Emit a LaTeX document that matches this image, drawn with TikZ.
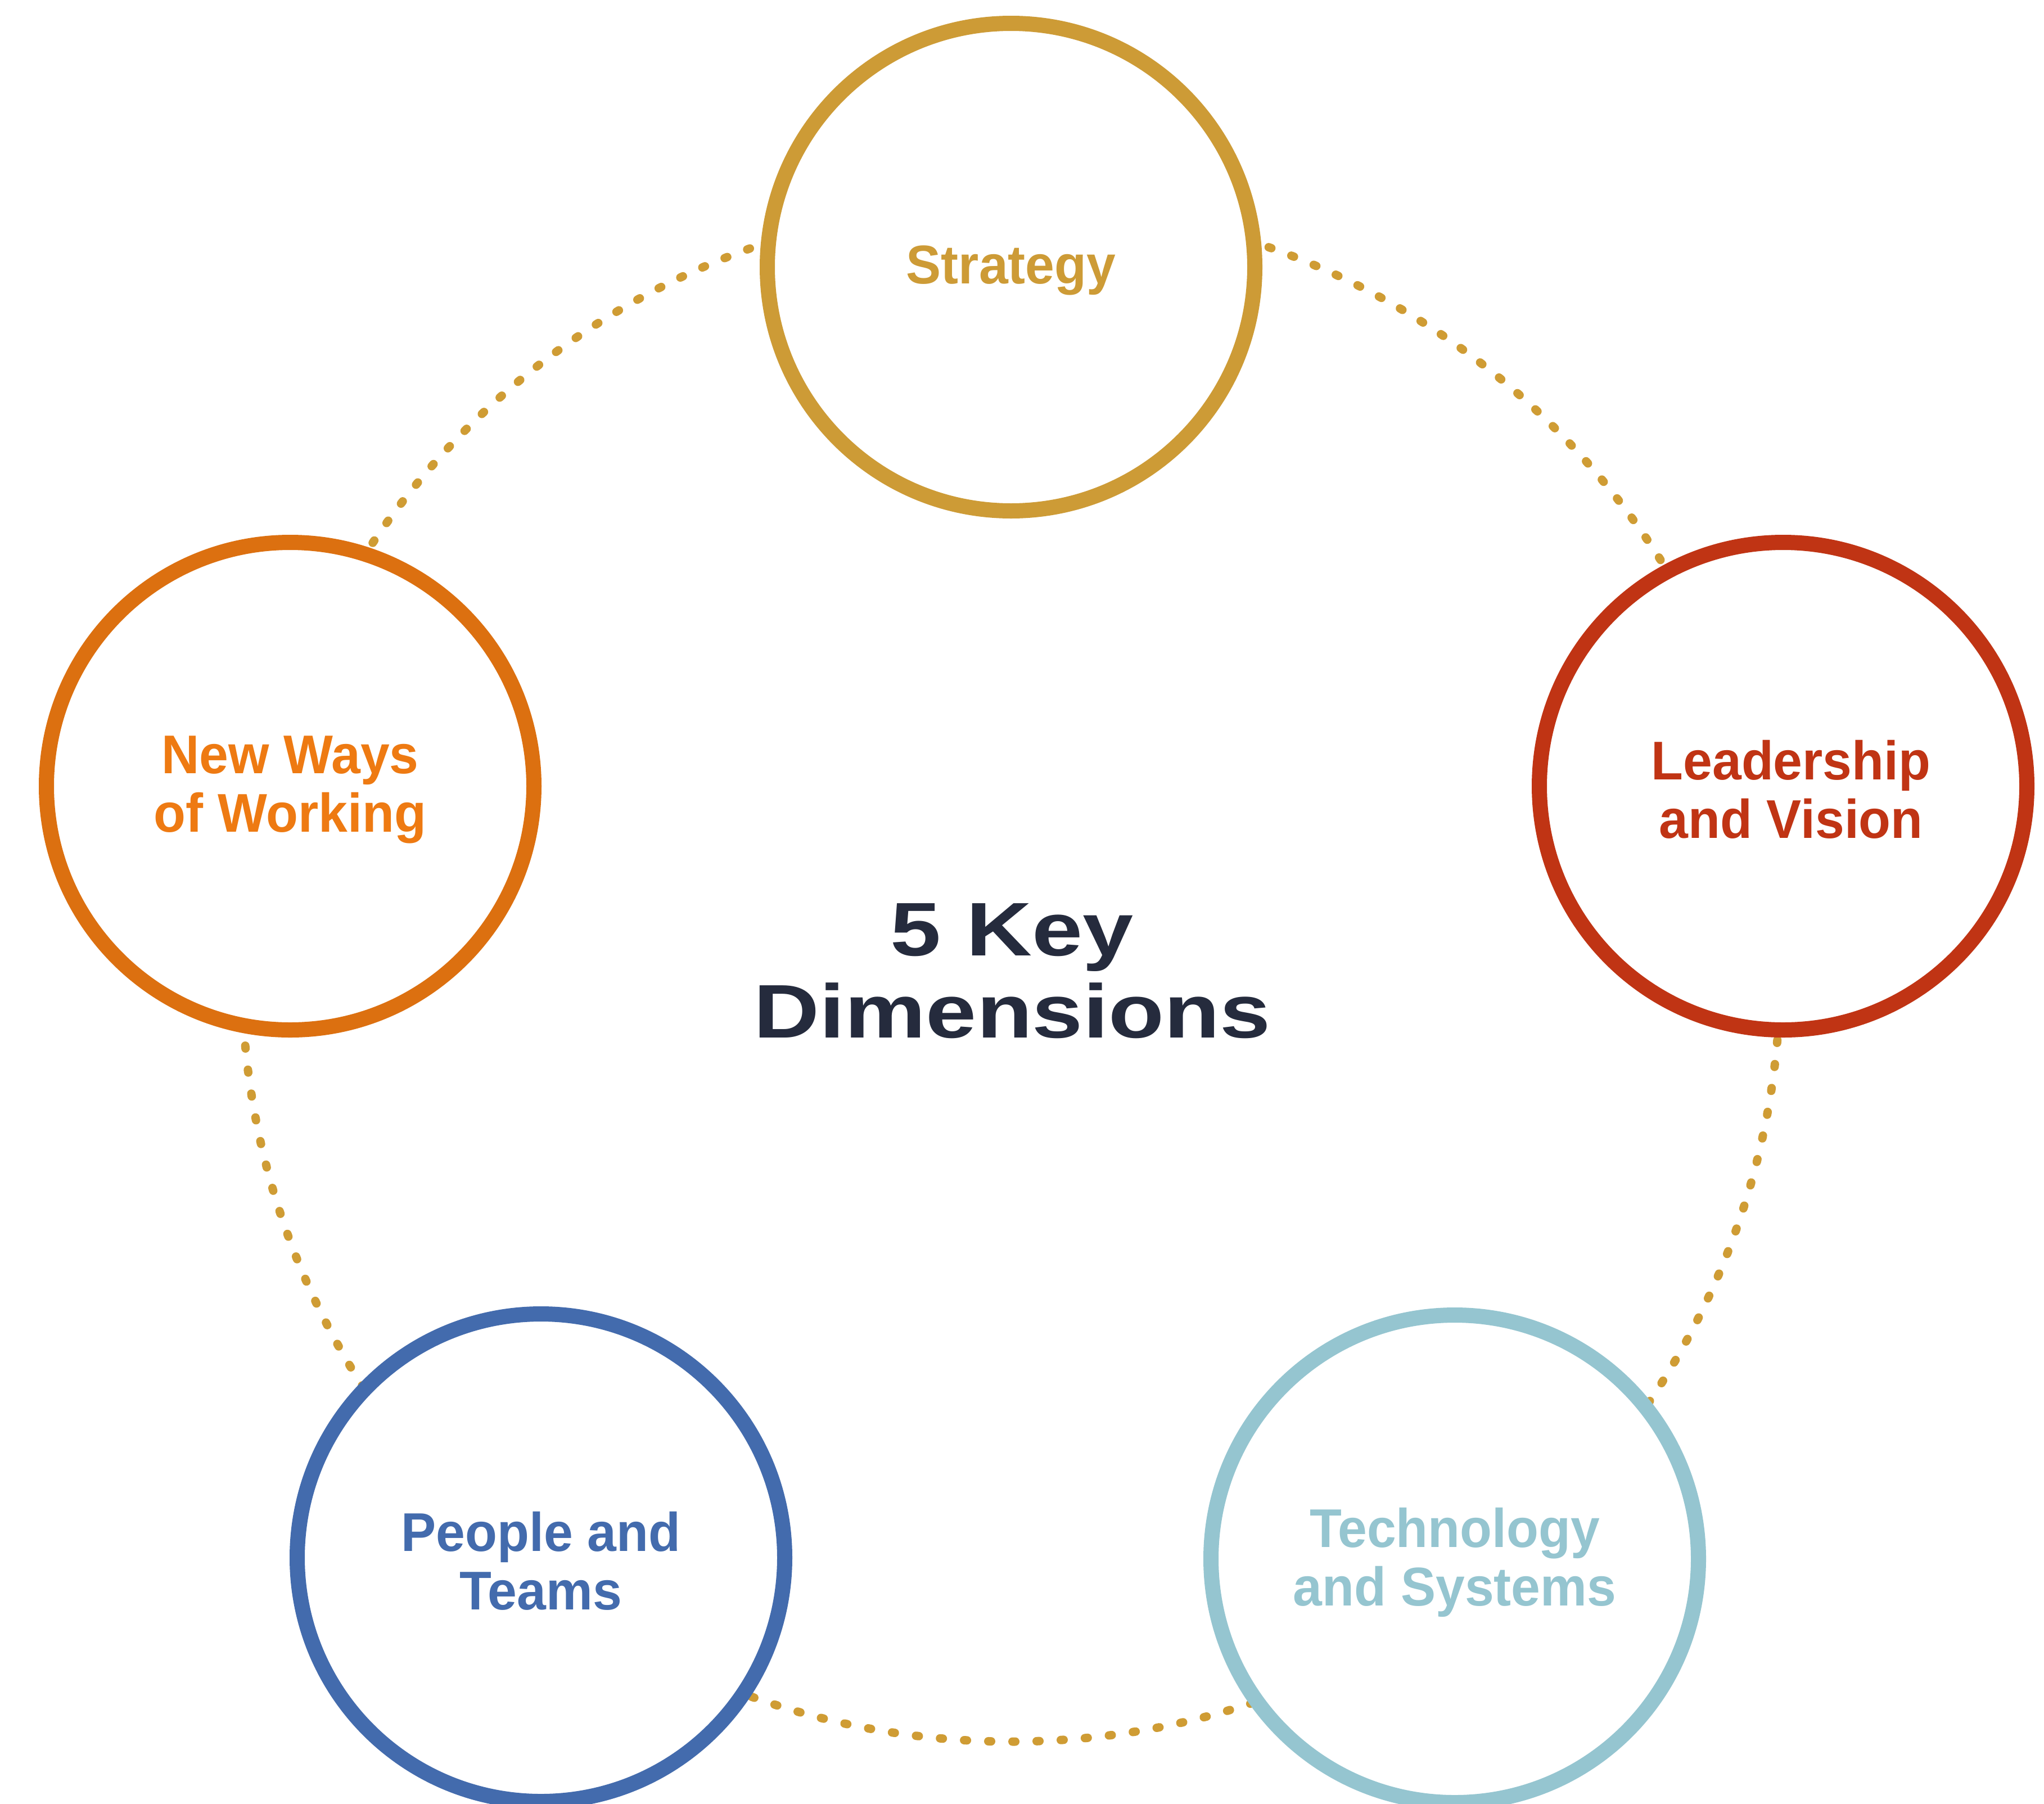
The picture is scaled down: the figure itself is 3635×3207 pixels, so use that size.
\documentclass[tikz,border=0pt]{standalone}
\usepackage{fontspec}
\newfontfamily\labelfont{Liberation Sans}[FakeStretch=0.96]
\newfontfamily\titlefont{Liberation Sans}[FakeStretch=1.2]
\definecolor{ringgold}{HTML}{CF9C34}
\definecolor{stratgold}{HTML}{CD9B36}
\definecolor{leadred}{HTML}{C03414}
\definecolor{waysorange}{HTML}{DC7010}
\definecolor{waystext}{HTML}{EE7A12}
\definecolor{peopleblue}{HTML}{436BAD}
\definecolor{techblue}{HTML}{95C5D0}
\definecolor{titlenavy}{HTML}{252B3D}
\begin{document}
\begin{tikzpicture}[x=1pt,y=-1pt,
  dimension/.style={circle, draw=#1, line width=27pt, fill=white,
    minimum size=867pt, inner sep=0pt},
  dimlabel/.style={text=#1, align=center, inner sep=0pt, yshift=-6pt,
    font=\labelfont\bfseries\fontsize{97}{104}\selectfont},
  ring/.style={circle, draw=ringgold, line width=15pt, line cap=round,
    dash pattern=on 5pt off 38pt, minimum size=2736pt, inner sep=0pt},
  title/.style={text=titlenavy, align=center, inner sep=0pt,
    font=\titlefont\bfseries\fontsize{135}{146}\selectfont}]
\useasboundingbox (0,0) rectangle (3635,3207);
\fill[white] (0,0) rectangle (3635,3207);
% dotted ring behind the five dimensions
\node[ring] (ring) at (1798,1729) {};
% the five dimensions
\node[dimension=stratgold] (strategy) at (1798,475) {};
\node[dimension=leadred] (leadership) at (3171,1398) {};
\node[dimension=waysorange] (ways) at (516,1398) {};
\node[dimension=peopleblue] (people) at (962,2770) {};
\node[dimension=techblue] (tech) at (2587,2772) {};
% their labels
\node[dimlabel=stratgold] (strategytext) at (strategy.center) {Strategy};
\node[dimlabel=leadred, xshift=14pt] (leadershiptext) at (leadership.center) {Leadership\\and Vision};
\node[dimlabel=waystext] (waystext) at (ways.center) {New Ways\\of Working};
\node[dimlabel=peopleblue] (peopletext) at (people.center) {People and\\Teams};
\node[dimlabel=techblue] (techtext) at (tech.center) {Technology\\and Systems};
% centre title
\node[title] (center) at (1800,1727) {5 Key\\Dimensions};
\end{tikzpicture}
\end{document}
